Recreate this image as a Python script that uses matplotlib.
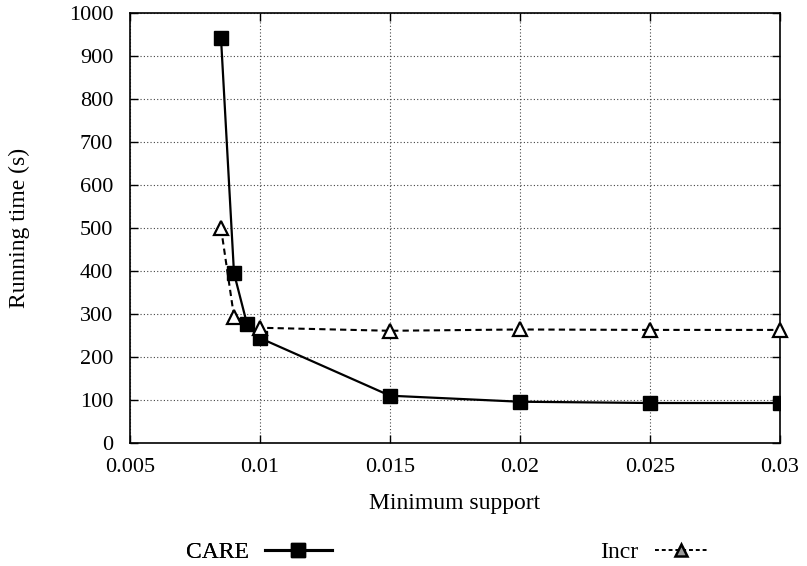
import matplotlib
matplotlib.use("Agg")
import matplotlib.pyplot as plt
from matplotlib.lines import Line2D

care_x = [0.0085, 0.009, 0.0095, 0.01, 0.015, 0.02, 0.025, 0.03]
care_y = [942, 395, 277, 244, 110, 96, 93, 93]
incr_x = [0.0085, 0.009, 0.01, 0.015, 0.02, 0.025, 0.03]
incr_y = [500, 294, 268, 261, 264, 263, 263]
xticks = [0.005, 0.01, 0.015, 0.02, 0.025, 0.03]
xticklabels = ["0.005", "0.01", "0.015", "0.02", "0.025", "0.03"]
yticks = list(range(0, 1001, 100))

plt.rcParams['font.family'] = ['Liberation Serif', 'DejaVu Serif']
fs = 16
fl = 17

fig = plt.figure(figsize=(8.07, 5.66), dpi=100)
W, H = 807, 566
L, R, T, B = 130, 780, 13, 443
ax = fig.add_axes([L / W, 1 - B / H, (R - L) / W, (B - T) / H])

ax.plot(care_x, care_y, color='black', lw=1.6, marker='s', ms=10,
        mfc='black', mec='black', zorder=3)
ax.plot(incr_x, incr_y, color='black', lw=1.5, ls=(0, (3, 2)), marker='^',
        ms=10, mfc='white', mec='black', mew=1.6, zorder=4, clip_on=False)

ax.set_xlim(0.005, 0.03)
ax.set_ylim(0, 1000)
ax.set_xticks(xticks)
ax.set_xticklabels(xticklabels)
ax.set_yticks(yticks)
ax.tick_params(direction='in', top=True, right=True, length=6, width=1,
               labelsize=fs)
ax.tick_params(axis='x', pad=11)
ax.tick_params(axis='y', pad=12)
ax.grid(True, color='#444444', ls=(0, (1, 2)), lw=0.8)
for s in ax.spines.values():
    s.set_linewidth(1.2)

ax.set_xlabel("Minimum support", fontsize=fl)
ax.set_ylabel("Running time (s)", fontsize=fl)
ax.xaxis.set_label_coords(0.5, (B - 493) / (B - T))
ax.yaxis.set_label_coords((30 - L) / (R - L), 0.5)

h1 = Line2D([], [], color='black', lw=2.2, marker='s', ms=10, mfc='black', mec='black')
h2 = Line2D([], [], color='black', lw=1.4, ls=(0, (2, 1.5)), marker='^', ms=8,
            mfc='#999999', mec='black', mew=1.8)
leg1 = fig.legend([h1], ["CARE"], loc='center left', bbox_to_anchor=(186 / W, 1 - 552 / H),
                  frameon=False, markerfirst=False, fontsize=fl, handlelength=2.8,
                  handletextpad=0.7, borderpad=0, borderaxespad=0)
leg2 = fig.legend([h2], ["Incr"], loc='center left', bbox_to_anchor=(600 / W, 1 - 552 / H),
                  frameon=False, markerfirst=False, fontsize=fl, handlelength=2.2,
                  handletextpad=0.7, borderpad=0, borderaxespad=0)
fig.add_artist(leg1)

fig.savefig("out.png", dpi=100)
